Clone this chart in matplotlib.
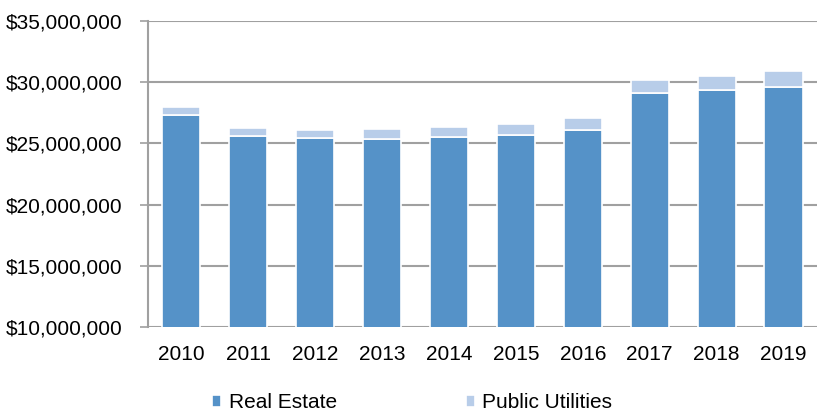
import matplotlib.pyplot as plt
from matplotlib.ticker import FuncFormatter
import numpy as np

plt.rcParams['font.family'] = ['Liberation Sans', 'DejaVu Sans']

years = ['2010', '2011', '2012', '2013', '2014', '2015', '2016', '2017', '2018', '2019']
real_estate = [27.3e6, 25.6e6, 25.4e6, 25.35e6, 25.5e6, 25.7e6, 26.05e6, 29.1e6, 29.3e6, 29.6e6]
public_utilities = [0.65e6, 0.65e6, 0.68e6, 0.77e6, 0.8e6, 0.9e6, 0.98e6, 1.02e6, 1.17e6, 1.28e6]

re_color = '#5592C8'
pu_color = '#B8CDE9'

fig = plt.figure(figsize=(8.17, 4.11), dpi=100)
ax = fig.add_axes([0.181, 0.204, 0.819, 0.746])

x = np.arange(len(years))
ax.bar(x, real_estate, width=0.57, color=re_color, edgecolor='white', linewidth=1.2,
       label='Real Estate', zorder=3)
ax.bar(x, public_utilities, width=0.57, bottom=real_estate, color=pu_color,
       edgecolor='white', linewidth=1.2, label='Public Utilities', zorder=3)

ax.set_ylim(10e6, 35e6)
ax.set_yticks(np.arange(10e6, 35e6 + 1, 5e6))
ax.yaxis.set_major_formatter(FuncFormatter(lambda v, p: f'${v:,.0f}'))
ax.set_xlim(-0.5, len(years) - 0.5)
ax.set_xticks(x)
ax.set_xticklabels(years)

ax.grid(axis='y', color='#A0A0A0', linewidth=1.5, zorder=0)
for s in ['top', 'right', 'bottom']:
    ax.spines[s].set_visible(False)
ax.spines['left'].set_color('#A0A0A0')
ax.spines['left'].set_linewidth(1.5)
ax.tick_params(axis='y', length=6, color='#A0A0A0', width=1.2, labelsize=15, pad=12.5)
ax.tick_params(axis='x', length=0, labelsize=15, pad=13)

ax.legend(loc='upper center', bbox_to_anchor=(0.395, -0.155), ncol=2, frameon=False,
          fontsize=15, handlelength=0.45, handleheight=0.45, handletextpad=0.35,
          columnspacing=6.2)

fig.savefig('out.png', dpi=100)
